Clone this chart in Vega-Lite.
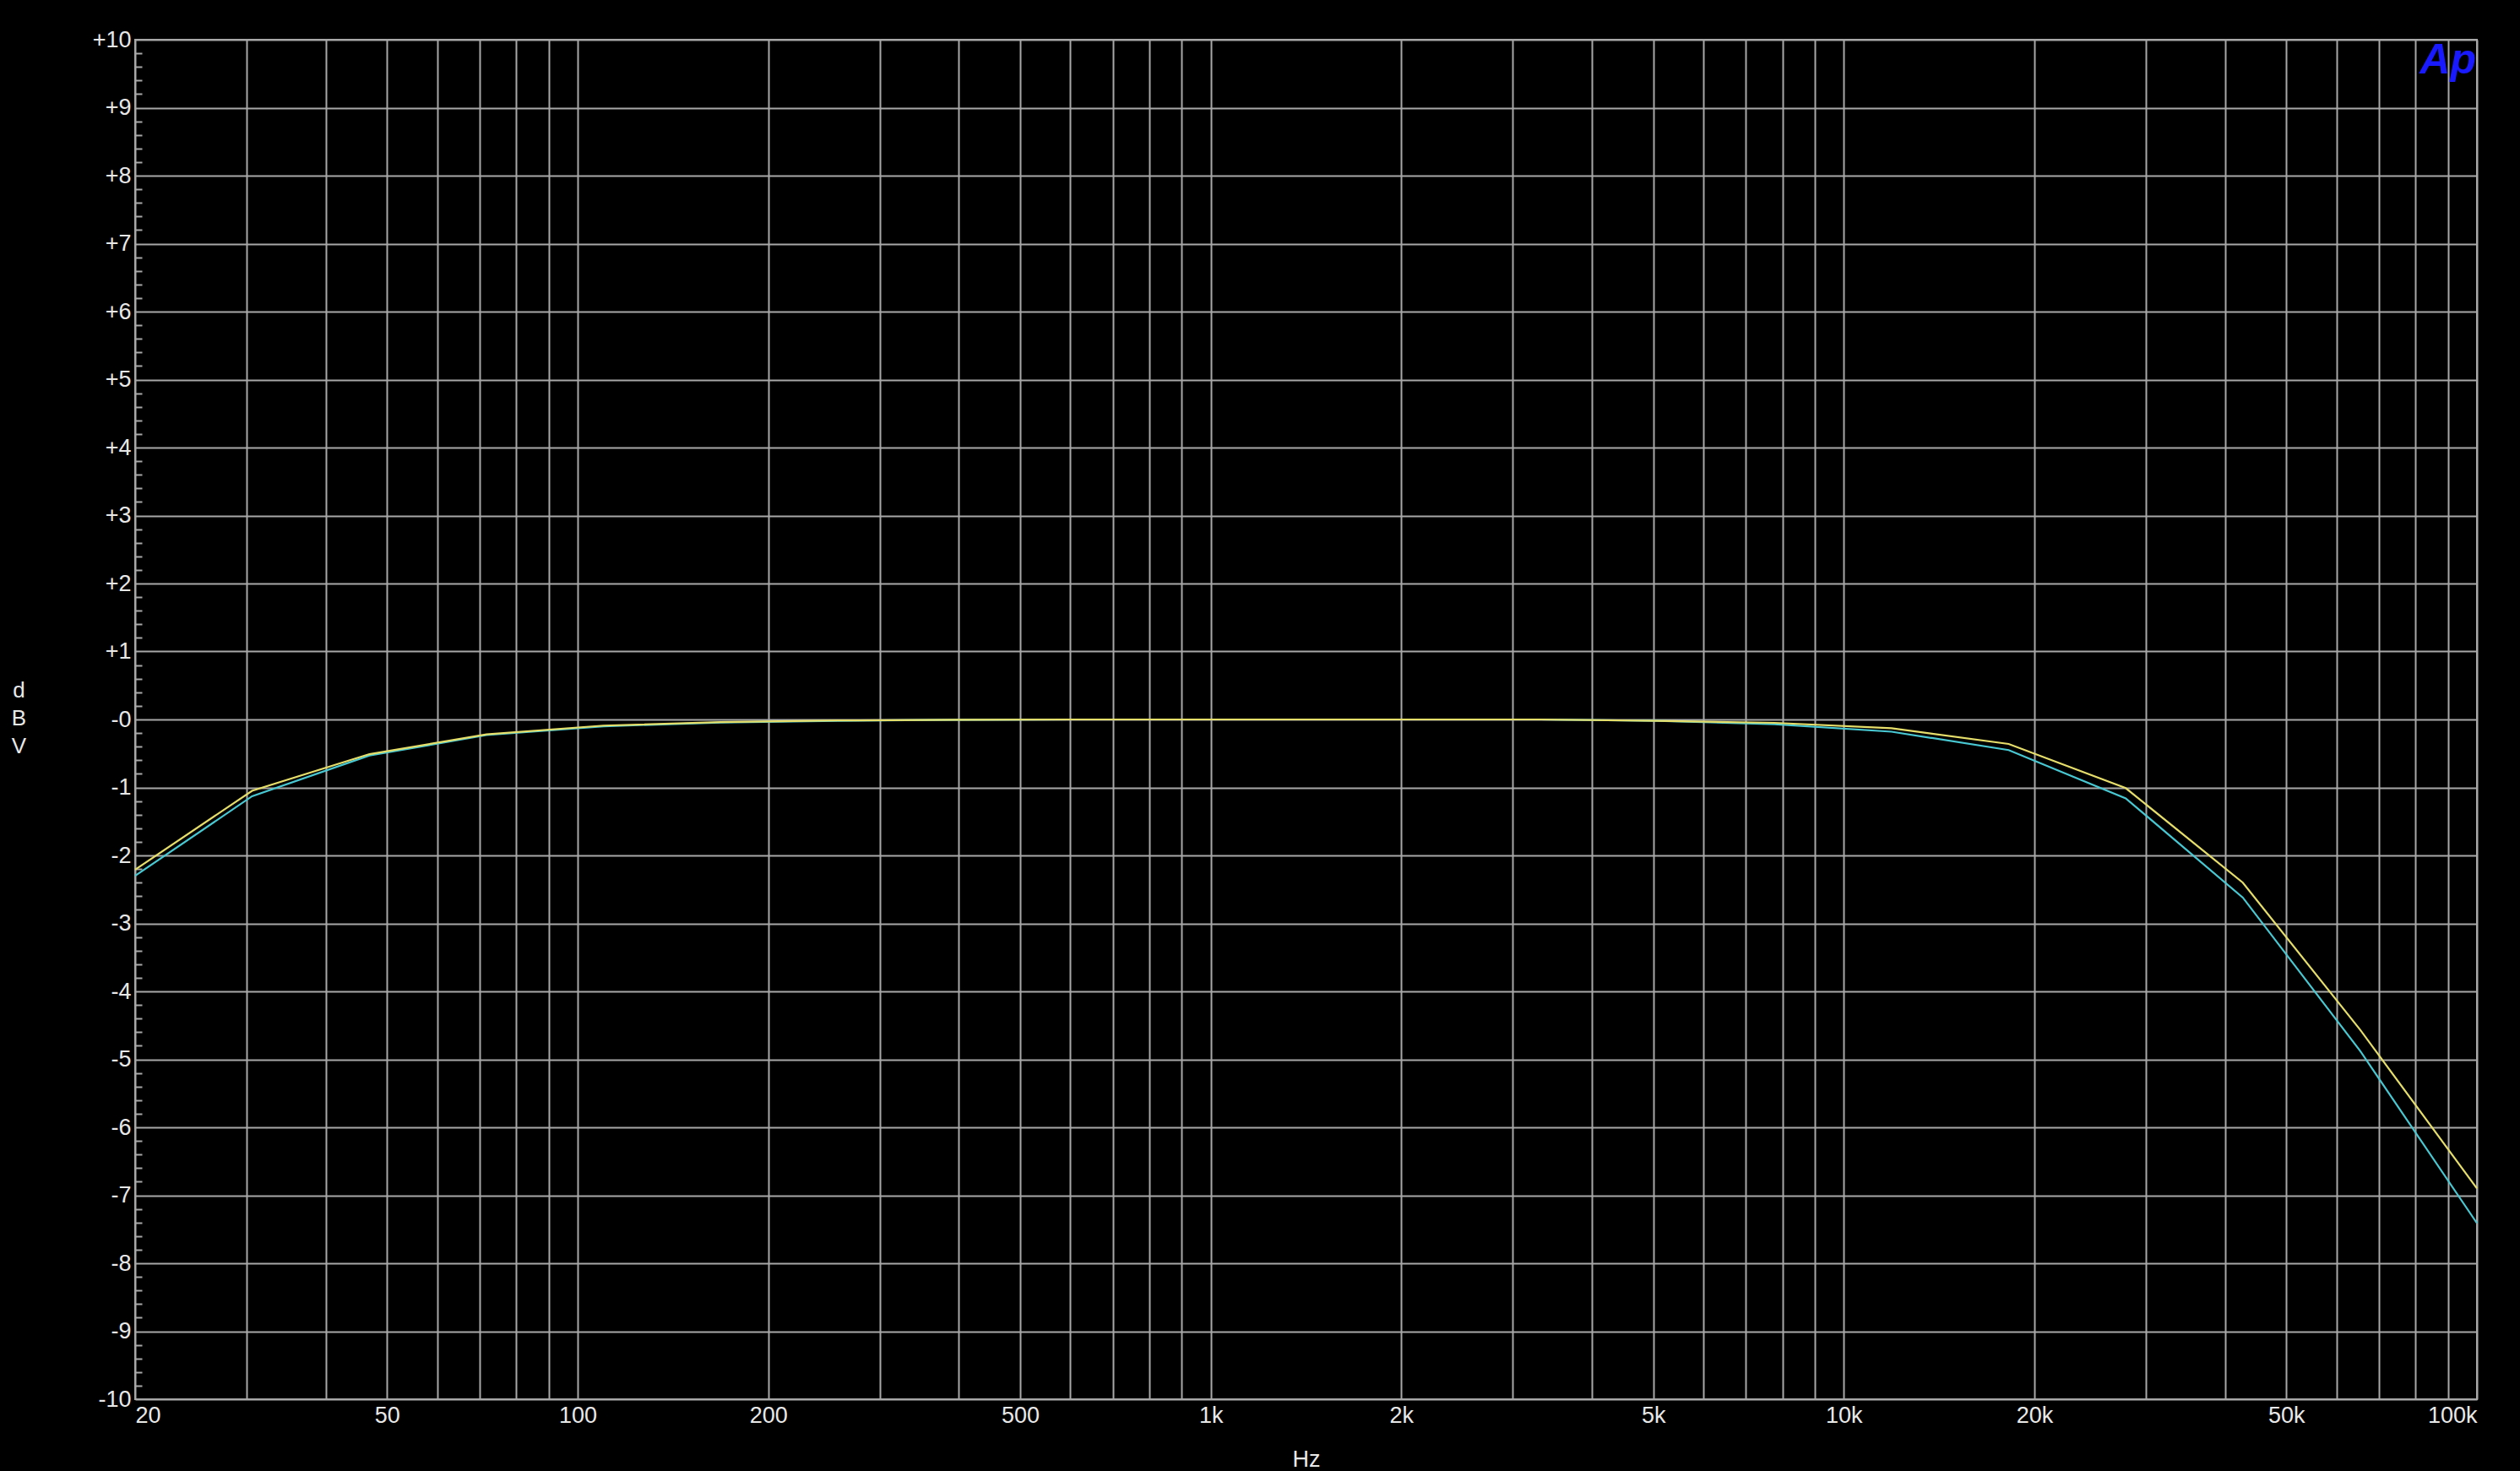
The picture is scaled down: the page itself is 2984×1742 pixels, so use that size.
{
  "$schema": "https://vega.github.io/schema/vega-lite/v6.json",
  "width": 2773,
  "height": 1610,
  "autosize": {"type": "none"},
  "padding": {"left": 160, "top": 47, "right": 51, "bottom": 85},
  "background": "#000000",
  "config": {
    "view": {"stroke": "#a8a8a8", "strokeWidth": 2},
    "font": "Liberation Sans"
  },
  "data": {
    "values": [
      {"f": 20, "db": -2.21, "ch": "A"},
      {"f": 30.6, "db": -1.05, "ch": "A"},
      {"f": 46.9, "db": -0.51, "ch": "A"},
      {"f": 71.8, "db": -0.22, "ch": "A"},
      {"f": 109.9, "db": -0.09, "ch": "A"},
      {"f": 168.2, "db": -0.04, "ch": "A"},
      {"f": 257.5, "db": -0.015, "ch": "A"},
      {"f": 394.2, "db": -0.005, "ch": "A"},
      {"f": 603.5, "db": 0, "ch": "A"},
      {"f": 923.9, "db": 0, "ch": "A"},
      {"f": 1414, "db": 0, "ch": "A"},
      {"f": 2165, "db": 0, "ch": "A"},
      {"f": 3315, "db": 0, "ch": "A"},
      {"f": 5075, "db": -0.02, "ch": "A"},
      {"f": 7769, "db": -0.05, "ch": "A"},
      {"f": 11894, "db": -0.13, "ch": "A"},
      {"f": 18209, "db": -0.36, "ch": "A"},
      {"f": 27877, "db": -1.01, "ch": "A"},
      {"f": 42678, "db": -2.4, "ch": "A"},
      {"f": 65337, "db": -4.56, "ch": "A"},
      {"f": 100000, "db": -6.9, "ch": "A"},
      {"f": 20, "db": -2.3, "ch": "B"},
      {"f": 30.6, "db": -1.13, "ch": "B"},
      {"f": 46.9, "db": -0.53, "ch": "B"},
      {"f": 71.8, "db": -0.23, "ch": "B"},
      {"f": 109.9, "db": -0.1, "ch": "B"},
      {"f": 168.2, "db": -0.045, "ch": "B"},
      {"f": 257.5, "db": -0.02, "ch": "B"},
      {"f": 394.2, "db": -0.005, "ch": "B"},
      {"f": 603.5, "db": 0, "ch": "B"},
      {"f": 923.9, "db": 0, "ch": "B"},
      {"f": 1414, "db": 0, "ch": "B"},
      {"f": 2165, "db": 0, "ch": "B"},
      {"f": 3315, "db": 0, "ch": "B"},
      {"f": 5075, "db": -0.02, "ch": "B"},
      {"f": 7769, "db": -0.07, "ch": "B"},
      {"f": 11894, "db": -0.18, "ch": "B"},
      {"f": 18209, "db": -0.45, "ch": "B"},
      {"f": 27877, "db": -1.16, "ch": "B"},
      {"f": 42678, "db": -2.62, "ch": "B"},
      {"f": 65337, "db": -4.87, "ch": "B"},
      {"f": 100000, "db": -7.41, "ch": "B"}
    ]
  },
  "encoding": {
    "x": {
      "field": "f",
      "type": "quantitative",
      "scale": {"type": "log", "domain": [20, 100000], "nice": false},
      "axis": {
        "values": [20, 30, 40, 50, 60, 70, 80, 90, 100, 200, 300, 400, 500, 600, 700, 800, 900, 1000, 2000, 3000, 4000, 5000, 6000, 7000, 8000, 9000, 10000, 20000, 30000, 40000, 50000, 60000, 70000, 80000, 90000, 100000],
        "labelExpr": "indexof([20,50,100,200,500,1000,2000,5000,10000,20000,50000,100000], datum.value) >= 0 ? (datum.value >= 1000 ? (datum.value / 1000) + 'k' : '' + datum.value) : ''",
        "labelFlush": true,
        "labelOverlap": false,
        "labelColor": "#e8e8e8",
        "labelFont": "Liberation Sans",
        "labelFontSize": 27,
        "labelPadding": 6,
        "ticks": false,
        "domain": false,
        "grid": true,
        "gridColor": "#a8a8a8",
        "gridWidth": 2,
        "gridOpacity": 1,
        "title": "Hz",
        "titleColor": "#e8e8e8",
        "titleFont": "Liberation Sans",
        "titleFontSize": 27,
        "titleFontWeight": "normal",
        "titleY": 79,
        "titleBaseline": "alphabetic"
      }
    }
  },
  "layer": [
    {
      "transform": [{"filter": "datum.ch == 'B'"}],
      "mark": {"type": "line", "color": "#48c8d2", "strokeWidth": 2.2},
      "encoding": {
        "y": {
          "field": "db",
          "type": "quantitative",
          "scale": {"domain": [-10, 10], "nice": false},
          "axis": {
            "orient": "left",
            "values": [-10, -9, -8, -7, -6, -5, -4, -3, -2, -1, 0, 1, 2, 3, 4, 5, 6, 7, 8, 9, 10],
            "labelExpr": "datum.value > 0 ? '+' + datum.value : '-' + abs(datum.value)",
            "labelColor": "#e8e8e8",
            "labelFont": "Liberation Sans",
            "labelFontSize": 27,
            "labelPadding": 5,
            "labelOverlap": false,
            "labelBound": false,
            "ticks": false,
            "domain": false,
            "grid": true,
            "gridColor": "#a8a8a8",
            "gridWidth": 2,
            "gridOpacity": 1,
            "title": ["d", "B", "V"],
            "titleAngle": 0,
            "titleAlign": "center",
            "titleBaseline": "top",
            "titleX": -138,
            "titleY": 757,
            "titleLineHeight": 33,
            "titleColor": "#e8e8e8",
            "titleFont": "Liberation Sans",
            "titleFontSize": 26,
            "titleFontWeight": "normal"
          }
        }
      }
    },
    {
      "transform": [{"filter": "datum.ch == 'A'"}],
      "mark": {"type": "line", "color": "#e6de6a", "strokeWidth": 2.2},
      "encoding": {
        "y": {
          "field": "db",
          "type": "quantitative",
          "axis": {
            "orient": "left",
            "values": [-9.8, -9.6, -9.4, -9.2, -8.8, -8.6, -8.4, -8.2, -7.8, -7.6, -7.4, -7.2, -6.8, -6.6, -6.4, -6.2, -5.8, -5.6, -5.4, -5.2, -4.8, -4.6, -4.4, -4.2, -3.8, -3.6, -3.4, -3.2, -2.8, -2.6, -2.4, -2.2, -1.8, -1.6, -1.4, -1.2, -0.8, -0.6, -0.4, -0.2, 0.2, 0.4, 0.6, 0.8, 1.2, 1.4, 1.6, 1.8, 2.2, 2.4, 2.6, 2.8, 3.2, 3.4, 3.6, 3.8, 4.2, 4.4, 4.6, 4.8, 5.2, 5.4, 5.6, 5.8, 6.2, 6.4, 6.6, 6.8, 7.2, 7.4, 7.6, 7.8, 8.2, 8.4, 8.6, 8.8, 9.2, 9.4, 9.6, 9.8],
            "labels": false,
            "grid": false,
            "domain": false,
            "ticks": true,
            "tickSize": -8,
            "tickWidth": 2,
            "tickColor": "#a8a8a8",
            "title": null
          }
        }
      }
    },
    {
      "data": {"values": [{"f": 90000, "db": 9.5, "t": "Ap"}]},
      "mark": {"type": "text", "color": "#1a1aff", "fontSize": 50, "fontStyle": "italic", "fontWeight": "bold", "font": "Liberation Sans", "align": "center", "baseline": "alphabetic"},
      "encoding": {
        "y": {"field": "db", "type": "quantitative", "axis": null},
        "text": {"field": "t"}
      }
    }
  ],
  "resolve": {"axis": {"y": "independent"}}
}
